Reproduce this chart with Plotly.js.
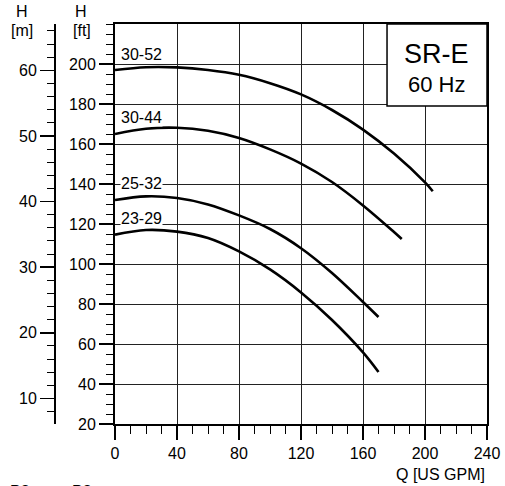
<!DOCTYPE html>
<html>
<head>
<meta charset="utf-8">
<script src="https://cdn.plot.ly/plotly-3.0.1.min.js"></script>
<style>html,body{margin:0;padding:0;background:#fff;}#chart{width:505px;height:486px;}</style>
</head>
<body>
<div id="chart"></div>
<script>
// Flow (US GPM) and head (ft)
const q_30_52 = [0, 20, 40, 60, 80, 100, 120, 140, 160, 180, 200, 205];
const h_30_52 = [197, 198.4, 198.3, 197.0, 194.6, 190.4, 184.8, 177.0, 167.2, 155.2, 140.8, 136.4];
const q_30_44 = [0, 20, 40, 60, 80, 100, 120, 140, 160, 180, 185];
const h_30_44 = [165, 167.6, 168.1, 166.6, 163, 157.3, 150.2, 141, 129.3, 116, 112.5];
const q_25_32 = [0, 20, 40, 60, 80, 100, 120, 140, 160, 170];
const h_25_32 = [132, 133.8, 133, 129.8, 124.3, 117.5, 107.9, 95.5, 81, 73.5];
const q_23_29 = [0, 20, 40, 60, 80, 100, 120, 140, 160, 170];
const h_23_29 = [114.7, 117, 116.2, 113, 106.3, 97.3, 85.8, 72, 55.8, 46];
const curveNames = ["30-52", "30-44", "25-32", "23-29"];
const labelPos = [[17, 205], [17, 173.5], [17, 140.3], [17, 122.8]];

const xTicks = [0, 40, 80, 120, 160, 200, 240];
const ftTicks = [20, 40, 60, 80, 100, 120, 140, 160, 180, 200];
const mTicks = [10, 20, 30, 40, 50, 60];
const ftRange = [20, 220];
const FT_TO_M = 0.3048;

const FONT = "Liberation Sans, Arial, sans-serif";
const series = [[q_30_52, h_30_52], [q_30_44, h_30_44], [q_25_32, h_25_32], [q_23_29, h_23_29]];
const traces = series.map((s, i) => ({
  x: s[0], y: s[1], type: "scatter", mode: "lines", name: curveNames[i],
  line: {color: "#000", width: 2.6, shape: "spline", smoothing: 1},
  hoverinfo: "skip", showlegend: false
}));
traces.push({x: [], y: [], yaxis: "y2", type: "scatter", mode: "lines", showlegend: false, hoverinfo: "skip"});

const W = 505, L = 40, R = 18;
const pw = W - L - R;
const annotations = curveNames.map((n, i) => ({
  x: labelPos[i][0], y: labelPos[i][1], xref: "x", yref: "y", text: n, showarrow: false,
  font: {family: FONT, size: 16, color: "#000"}, bgcolor: "#fff", borderpad: 0,
  xanchor: "center", yanchor: "middle"
}));
annotations.push(
  {x: 207.7, y: 205, xref: "x", yref: "y", text: "SR-E", showarrow: false, font: {family: FONT, size: 27, color: "#000"}, xanchor: "center", yanchor: "middle"},
  {x: 207.7, y: 190, xref: "x", yref: "y", text: "60 Hz", showarrow: false, font: {family: FONT, size: 22, color: "#000"}, xanchor: "center", yanchor: "middle"},
  {x: 487, y: 474, xref: "pixel", yref: "pixel", text: "Q [US GPM]", showarrow: false, font: {family: FONT, size: 16, color: "#000"}, xanchor: "right", yanchor: "middle"},
  {x: 22, y: 12, xref: "pixel", yref: "pixel", text: "H", showarrow: false, font: {family: FONT, size: 16, color: "#000"}, xanchor: "center", yanchor: "middle"},
  {x: 22, y: 31, xref: "pixel", yref: "pixel", text: "[m]", showarrow: false, font: {family: FONT, size: 16, color: "#000"}, xanchor: "center", yanchor: "middle"},
  {x: 81, y: 12, xref: "pixel", yref: "pixel", text: "H", showarrow: false, font: {family: FONT, size: 16, color: "#000"}, xanchor: "center", yanchor: "middle"},
  {x: 82, y: 31, xref: "pixel", yref: "pixel", text: "[ft]", showarrow: false, font: {family: FONT, size: 16, color: "#000"}, xanchor: "center", yanchor: "middle"},
  {x: 20, y: 491, xref: "pixel", yref: "pixel", text: "P2", showarrow: false, font: {family: FONT, size: 16, color: "#000"}, xanchor: "center", yanchor: "middle"},
  {x: 82, y: 491, xref: "pixel", yref: "pixel", text: "P2", showarrow: false, font: {family: FONT, size: 16, color: "#000"}, xanchor: "center", yanchor: "middle"}
);
// convert pixel annotations to paper coords
const T = 24, B = 62, H = 486;
const ph = H - T - B;
annotations.forEach(a => {
  if (a.xref === "pixel") { a.xref = "paper"; a.x = (a.x - L) / pw; }
  if (a.yref === "pixel") { a.yref = "paper"; a.y = 1 - (a.y - T) / ph; }
});

const layout = {
  width: W, height: H,
  margin: {l: L, r: R, t: T, b: B, pad: 0},
  paper_bgcolor: "#fff", plot_bgcolor: "#fff",
  font: {family: FONT, size: 16, color: "#000"},
  xaxis: {
    domain: [(115 - L) / pw, 1], range: [0, 240], tickmode: "array", tickvals: xTicks,
    ticks: "outside", ticklen: 14, tickwidth: 1.5, tickcolor: "#000",
    showline: true, linewidth: 2, linecolor: "#000", mirror: true,
    showgrid: true, gridcolor: "#222", gridwidth: 1, zeroline: false,
    minor: {tickmode: "linear", tick0: 0, dtick: 10, ticks: "outside", ticklen: 8, tickcolor: "#000", tickwidth: 1, showgrid: false},
    tickfont: {family: FONT, size: 16, color: "#000"}, fixedrange: true
  },
  yaxis: {
    range: ftRange, tickmode: "array", tickvals: ftTicks,
    ticks: "outside", ticklen: 14, tickwidth: 1.5, tickcolor: "#000",
    showline: true, linewidth: 2, linecolor: "#000", mirror: true,
    showgrid: true, gridcolor: "#222", gridwidth: 1, zeroline: false,
    minor: {tickmode: "linear", tick0: 0, dtick: 5, ticks: "outside", ticklen: 7, tickcolor: "#000", tickwidth: 1, showgrid: false},
    tickfont: {family: FONT, size: 16, color: "#000"}, fixedrange: true
  },
  yaxis2: {
    overlaying: "y", anchor: "free", position: (55 - L) / pw, side: "left",
    range: [ftRange[0] * FT_TO_M, ftRange[1] * FT_TO_M], tickmode: "array", tickvals: mTicks,
    ticks: "outside", ticklen: 14, tickwidth: 1.5, tickcolor: "#000",
    showline: true, linewidth: 2, linecolor: "#000",
    showgrid: false, zeroline: false,
    minor: {tickmode: "linear", tick0: 0, dtick: 2, ticks: "outside", ticklen: 7, tickcolor: "#000", tickwidth: 1, showgrid: false},
    tickfont: {family: FONT, size: 16, color: "#000"}, fixedrange: true
  },
  shapes: [{
    type: "rect", xref: "x", yref: "y", x0: 175.5, x1: 240, y0: 179, y1: 220,
    fillcolor: "#fff", line: {color: "#000", width: 1.5}, layer: "above"
  }],
  annotations: annotations,
  showlegend: false
};
Plotly.newPlot("chart", traces, layout, {staticPlot: true, displayModeBar: false});
</script>
</body>
</html>
